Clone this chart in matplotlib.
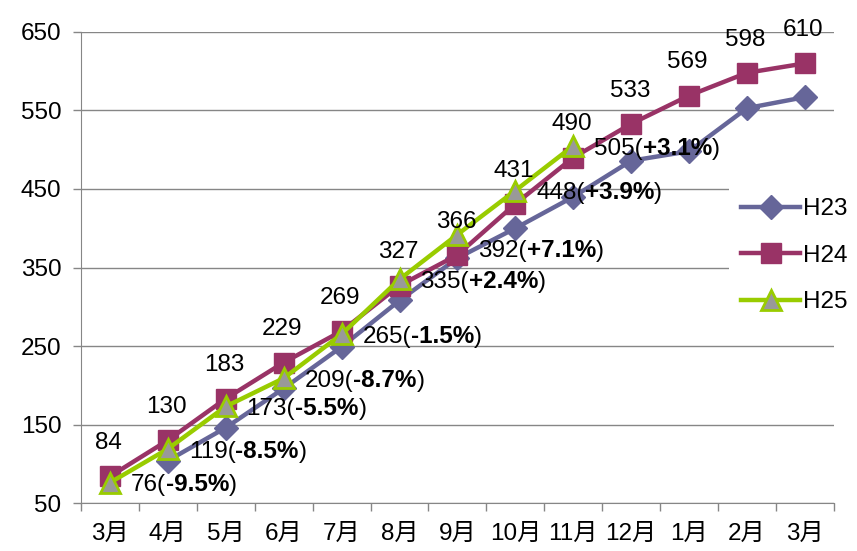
import matplotlib
matplotlib.use("Agg")
import matplotlib.pyplot as plt
import numpy as np

plt.rcParams.update({
    "font.family": ["Liberation Sans", "Noto Sans CJK JP"],
    "font.size": 17.5,
    "axes.unicode_minus": False,
})

months = ["3月", "4月", "5月", "6月", "7月", "8月", "9月", "10月", "11月", "12月", "1月", "2月", "3月"]
h23 = [np.nan, 104, 146, 196, 249, 308, 362, 400, 440, 486, 498, 553, 567]
h24 = [84, 130, 183, 229, 269, 327, 366, 431, 490, 533, 569, 598, 610]
h25 = [76, 119, 173, 209, 265, 335, 392, 448, 505]
h25_pct = ["-9.5%", "-8.5%", "-5.5%", "-8.7%", "-1.5%", "+2.4%", "+7.1%", "+3.9%", "+3.1%"]

C23, C24, C25 = "#666699", "#993366", "#99cc00"
GRID = "#868686"
FS = 17.5

fig = plt.figure(figsize=(8.57, 5.51), dpi=100)
ax = fig.add_axes([0.0945, 0.087, 0.8785, 0.855])

x = np.arange(len(months))
ax.plot(x, h23, color=C23, lw=3.2, marker="D", ms=12, mfc=C23, mec=C23, label="H23", zorder=3)
ax.plot(x, h24, color=C24, lw=3.2, marker="s", ms=14, mfc=C24, mec=C24, label="H24", zorder=4)
ax.plot(x[:len(h25)], h25, color=C25, lw=3.2, marker="^", ms=15, mfc="#999999", mec=C25,
        mew=2, label="H25", zorder=5)

# H24 の値ラベル（点の上）
for xi, v in zip(x, h24):
    ax.annotate(str(v), (xi, v), xytext=(-1, 16), textcoords="offset points",
                ha="center", va="bottom", fontsize=FS, zorder=6)

# H25 のラベル: 値(前年比 太字)
for i, (v, p) in enumerate(zip(h25, h25_pct)):
    dy = -12 if i == 6 else -2
    t1 = ax.annotate(f"{v}(", (x[i], v), xytext=(15, dy), textcoords="offset points",
                     ha="left", va="center", fontsize=FS, zorder=6)
    t2 = ax.annotate(p, xy=(1, 0), xycoords=t1, ha="left", va="bottom",
                     fontsize=FS, fontweight="bold", zorder=6)
    ax.annotate(")", xy=(1, 0), xycoords=t2, ha="left", va="bottom", fontsize=FS, zorder=6)

ax.set_xlim(-0.5, 12.5)
ax.set_ylim(50, 650)
ax.set_yticks(np.arange(50, 651, 100))
ax.set_xticks(x)
ax.set_xticklabels(months)
ax.set_xticks(np.arange(-0.5, 13, 1), minor=True)
ax.tick_params(axis="x", which="major", length=0, pad=14)
ax.tick_params(axis="x", which="minor", length=6, color=GRID, width=1)
ax.tick_params(axis="y", length=6, color=GRID, width=1, pad=8)
ax.yaxis.grid(True, color=GRID, lw=1)
ax.set_axisbelow(True)
for s in ["top", "right"]:
    ax.spines[s].set_visible(False)
for s in ["left", "bottom"]:
    ax.spines[s].set_color(GRID)

leg = ax.legend(loc="center left", bbox_to_anchor=(0.845, 0.525), frameon=True,
                facecolor="white", edgecolor="none", framealpha=1, fancybox=False,
                handlelength=2.4, labelspacing=1.0, handletextpad=0.15, borderpad=0.5,
                fontsize=FS)
leg.set_zorder(2)

fig.savefig("out.png", dpi=100)
